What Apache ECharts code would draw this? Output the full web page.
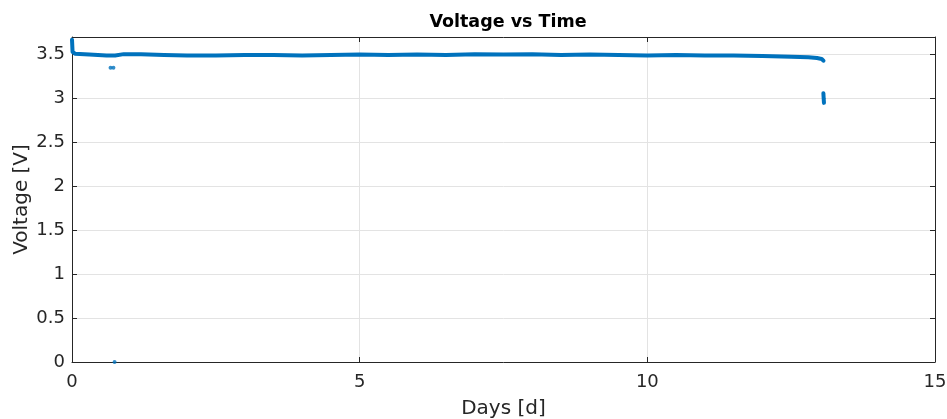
<!DOCTYPE html>
<html>
<head>
<meta charset="utf-8">
<script src="https://cdn.jsdelivr.net/npm/echarts@6/dist/echarts.min.js"></script>
<style>
  html, body { margin: 0; padding: 0; background: #fff; }
  #chart { width: 947px; height: 419px; }
</style>
</head>
<body>
<div id="chart"></div>
<script>
// main trace: days / volts
var days = [0, 0.01, 0.05, 0.3, 0.6, 0.75, 0.9, 1.2, 1.6, 2.0, 2.5, 3.0, 3.5, 4.0, 4.5, 5.0,
  5.5, 6.0, 6.5, 7.0, 7.5, 8.0, 8.5, 9.0, 9.5, 10.0, 10.5, 11.0, 11.5, 12.0, 12.5, 12.8, 12.95, 13.03, 13.06];
var volts = [3.67, 3.53, 3.51, 3.50, 3.49, 3.49, 3.505, 3.505, 3.495, 3.49, 3.49, 3.495, 3.495, 3.49, 3.495, 3.50,
  3.495, 3.50, 3.495, 3.505, 3.50, 3.505, 3.495, 3.50, 3.495, 3.49, 3.495, 3.49, 3.49, 3.485, 3.475, 3.47, 3.46, 3.45, 3.43];

// drop at the end
var tailDays = [13.06, 13.065, 13.07];
var tailVolts = [3.06, 3.0, 2.95];

// stray samples
var strayDays = [0.67, 0.72, 0.74];
var strayVolts = [3.35, 3.35, 0];

var xTicks = [0, 5, 10, 15];
var yTicks = [0, 0.5, 1, 1.5, 2, 2.5, 3, 3.5];

function pairs(a, b) {
  return a.map(function (x, i) { return [x, b[i]]; });
}

var blue = '#0072BD';
var ink = '#262626';
var font = 'DejaVu Sans';

var chart = echarts.init(document.getElementById('chart'), null, { renderer: 'canvas' });

var axisLine = { show: true, onZero: false, lineStyle: { color: ink, width: 1 } };
var tickIn = { show: true, inside: true, length: 5, lineStyle: { color: ink } };

chart.setOption({
  animation: false,
  title: {
    text: 'Voltage vs Time',
    left: 503, top: 8, textAlign: 'center',
    textStyle: { fontFamily: font, fontWeight: 'bold', fontSize: 17.5, color: '#000' }
  },
  grid: { left: 72, right: 12, top: 37, bottom: 57, containLabel: false, outerBoundsMode: 'none' },
  xAxis: [{
    type: 'value', min: 0, max: 15, interval: 5,
    axisLine: axisLine, axisTick: tickIn,
    axisLabel: { fontFamily: font, fontSize: 18, color: ink, margin: 11,
      formatter: function (v) { return xTicks.indexOf(v) >= 0 ? String(v) : ''; } },
    splitLine: { show: true, lineStyle: { color: '#e3e3e3' } },
    name: 'Days [d]', nameLocation: 'middle', nameGap: 37,
    nameTextStyle: { fontFamily: font, fontSize: 20, color: ink }
  }, {
    type: 'value', position: 'top', min: 0, max: 15, interval: 5,
    axisLine: axisLine, axisTick: tickIn, axisLabel: { show: false }, splitLine: { show: false }
  }],
  yAxis: [{
    type: 'value', min: 0, max: 3.7, interval: 0.5,
    axisLine: axisLine, axisTick: tickIn,
    axisLabel: { fontFamily: font, fontSize: 18, color: ink, margin: 7, showMaxLabel: false,
      formatter: function (v) { return yTicks.indexOf(Math.round(v * 10) / 10) >= 0 ? String(Math.round(v * 10) / 10) : ''; } },
    splitLine: { show: true, lineStyle: { color: '#e3e3e3' } },
    name: 'Voltage [V]', nameLocation: 'middle', nameGap: 40, nameRotate: 90, nameMoveOverlap: false,
    nameTextStyle: { fontFamily: font, fontSize: 20, color: ink }
  }, {
    type: 'value', position: 'right', min: 0, max: 3.7, interval: 0.5,
    axisLine: axisLine, axisTick: tickIn, axisLabel: { show: false }, splitLine: { show: false }
  }],
  series: [{
    type: 'line', data: pairs(days, volts), showSymbol: false, smooth: false,
    lineStyle: { color: blue, width: 4, cap: 'round', join: 'round' }
  }, {
    type: 'line', data: pairs(tailDays, tailVolts), showSymbol: false,
    lineStyle: { color: blue, width: 4, cap: 'round' }
  }, {
    type: 'scatter', data: pairs(strayDays, strayVolts), symbolSize: 4,
    itemStyle: { color: blue }
  }]
});
</script>
</body>
</html>
